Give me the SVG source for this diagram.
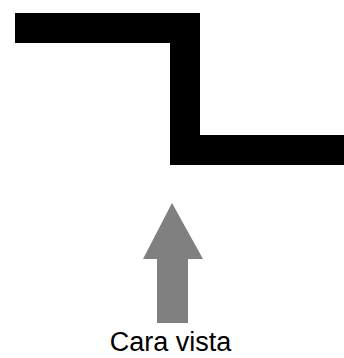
<svg xmlns="http://www.w3.org/2000/svg" width="344" height="358" viewBox="0 0 344 358">
<style>
.wall{fill:#000}
.arrow{fill:#808080}
.lbl{font-family:"Liberation Sans",Arial,sans-serif;font-size:27px;fill:#000}
</style>
<rect width="344" height="358" fill="#fff"/>
<g id="wall">
<polygon class="wall" points="15,13 200,13 200,135 344,135 344,165 170,165 170,43 15,43"/>
</g>
<g id="arrow">
<polygon class="arrow" points="172,203 203,259 188,259 188,323 157,323 157,259 143,259"/>
</g>
<g id="label">
<text class="lbl" x="170.5" y="351" text-anchor="middle">Cara vista</text>
</g>
</svg>
